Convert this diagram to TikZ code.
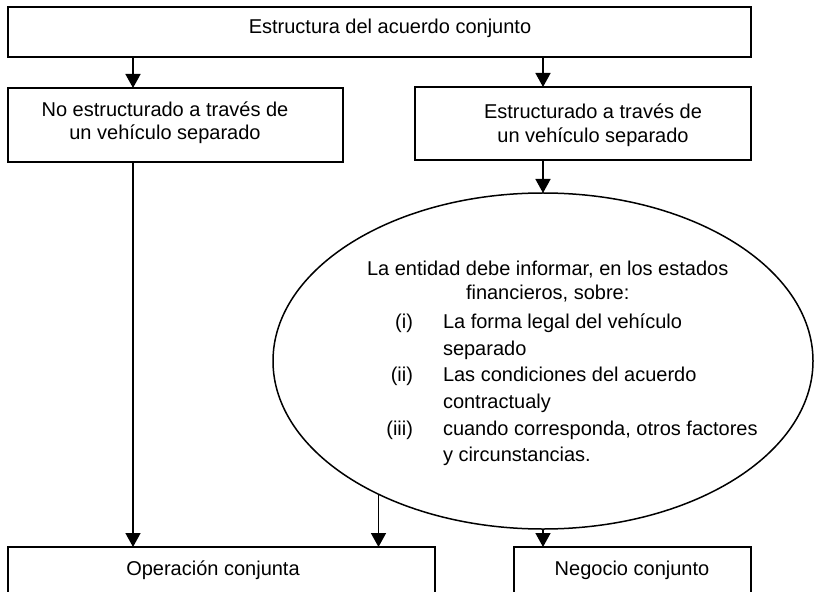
\documentclass[tikz,border=0pt]{standalone}
\usepackage{fontspec}
\setmainfont{Liberation Sans}
\usetikzlibrary{arrows.meta,shapes.geometric}
\begin{document}
\begin{tikzpicture}[x=1bp,y=-1bp,
  box/.style={draw, line width=1.6bp, rectangle, inner sep=0pt, outer sep=0pt, anchor=north west},
  txt/.style={inner sep=0pt, outer sep=0pt, font=\fontsize{20bp}{24bp}\selectfont},
  arr/.style={line width=1.6bp, -{Triangle[width=15bp,length=14bp]}}]
\useasboundingbox (0,0) rectangle (816,592);
\clip (0,0) rectangle (816,592);
% boxes
\node[box, minimum width=743bp, minimum height=50bp] (top) at (8,7) {};
\node[box, minimum width=335bp, minimum height=74bp] (lb) at (8,88) {};
\node[box, minimum width=336bp, minimum height=73bp] (rb) at (415,87) {};
\node[box, minimum width=427bp, minimum height=60bp] (op) at (8,547) {};
\node[box, minimum width=237bp, minimum height=60bp] (neg) at (514,547) {};
\node[draw, ellipse, line width=1.5bp, inner sep=0pt, outer sep=0pt,
      minimum width=540bp, minimum height=336bp] (ell) at (543,361) {};
% texts
\node[txt, anchor=base] (t0) at (390,34) {Estructura del acuerdo conjunto};
\node[txt, anchor=base] (t1a) at (165,117) {No estructurado a través de};
\node[txt, anchor=base] (t1b) at (165,140) {un vehículo separado};
\node[txt, anchor=base] (t2a) at (593,119) {Estructurado a través de};
\node[txt, anchor=base] (t2b) at (593,143) {un vehículo separado};
\node[txt, anchor=base west] (e1) at (367,275) {La entidad debe informar, en los estados};
\node[txt, anchor=base west] (e2) at (466,299) {financieros, sobre:};
\node[txt, anchor=base east] (n1) at (413,328) {(i)};
\node[txt, anchor=base west] (e3) at (443,328) {La forma legal del vehículo};
\node[txt, anchor=base west] (e4) at (443,355) {separado};
\node[txt, anchor=base east] (n2) at (413,381) {(ii)};
\node[txt, anchor=base west] (e5) at (443,381) {Las condiciones del acuerdo};
\node[txt, anchor=base west] (e6) at (443,408) {contractualy};
\node[txt, anchor=base east] (n3) at (413,435) {(iii)};
\node[txt, anchor=base west] (e7) at (443,435) {cuando corresponda, otros factores};
\node[txt, anchor=base west] (e8) at (443,461) {y circunstancias.};
\node[txt, anchor=base] (t3) at (213,575) {Operación conjunta};
\node[txt, anchor=base] (t4) at (632,575) {Negocio conjunto};
% connectors
\coordinate (xa) at (133,0);
\coordinate (xb) at (543,0);
\draw[arr] (top.south -| xa) -- (lb.north -| xa);
\draw[arr] (top.south -| xb) -- (rb.north -| xb);
\draw[arr] (rb.south -| xb) -- (ell.north);
\draw[arr] (lb.south -| xa) -- (op.north -| xa);
\draw[arr] (ell.219.15) -- (ell.219.15 |- op.north);
\draw[arr] (ell.south) -- (ell.south |- neg.north);
\end{tikzpicture}
\end{document}
